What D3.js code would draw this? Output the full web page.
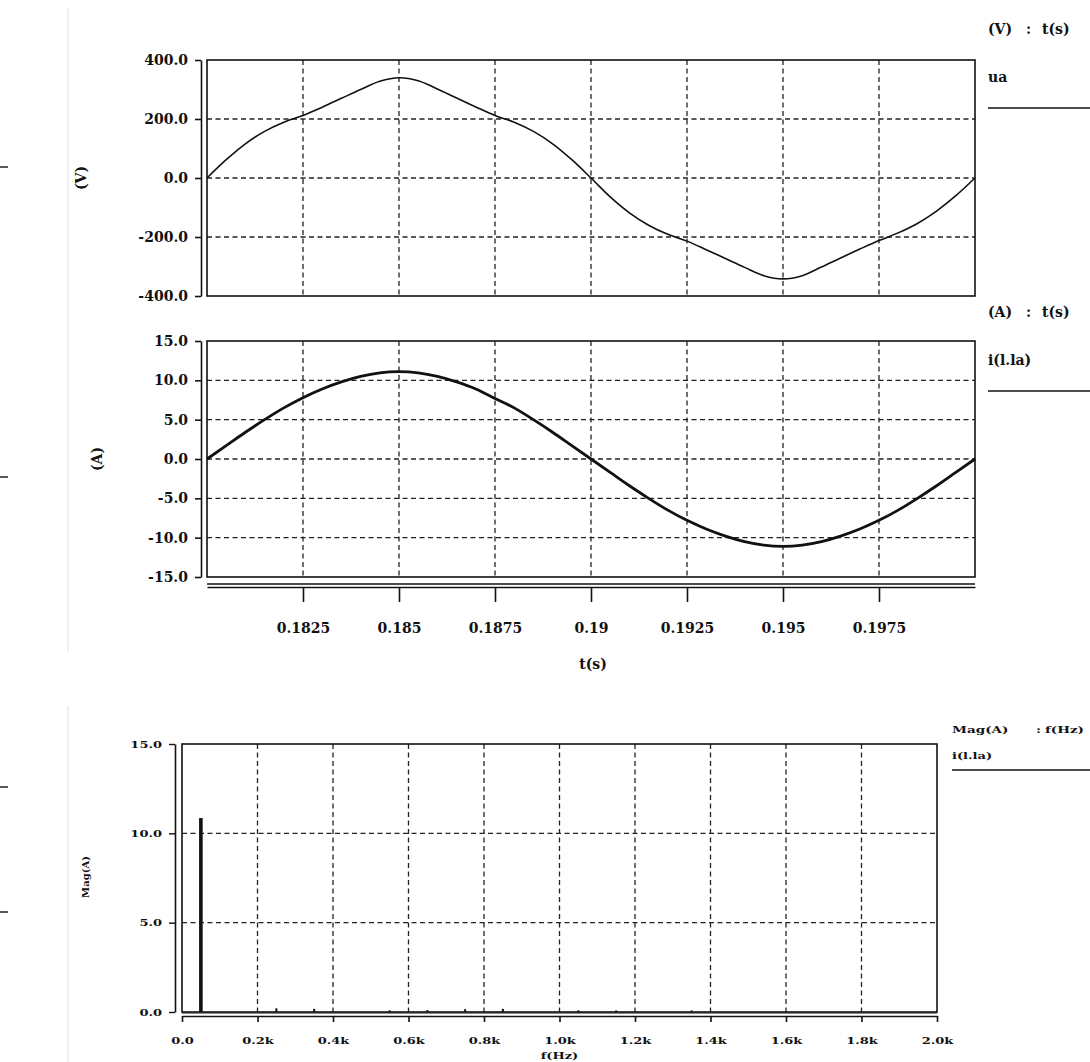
<!DOCTYPE html>
<html>
<head>
<meta charset="utf-8">
<script src="https://cdn.jsdelivr.net/npm/d3@7"></script>
<style>
  body { margin: 0; background: #fff; }
  svg { display: block; }
  .t { font-family: "DejaVu Serif", serif; font-weight: bold; font-size: 14px; fill: #111; }
  .s { font-family: "DejaVu Serif", serif; font-weight: bold; font-size: 10px; fill: #111; }
  .grid { stroke: #222; stroke-width: 1.3; stroke-dasharray: 5 3.5; fill: none; }
</style>
</head>
<body>
<svg id="vis" width="1090" height="1062"></svg>
<script>
// sample times (s)
const time = [0.1800, 0.1805, 0.1810, 0.1815, 0.1820, 0.1825, 0.1830, 0.1835, 0.1840, 0.1845,
              0.1850, 0.1855, 0.1860, 0.1865, 0.1870, 0.1875, 0.1880, 0.1885, 0.1890, 0.1895,
              0.1900, 0.1905, 0.1910, 0.1915, 0.1920, 0.1925, 0.1930, 0.1935, 0.1940, 0.1945,
              0.1950, 0.1955, 0.1960, 0.1965, 0.1970, 0.1975, 0.1980, 0.1985, 0.1990, 0.1995, 0.2000]
// phase voltage ua (V)
const ua = [0, 62, 116, 158, 189, 212, 240, 270, 300, 328,
            340, 330, 302, 271, 241, 212, 189, 158, 116, 62,
            0, -64, -118, -160, -191, -214, -243, -273, -303, -331,
            -342, -331, -302, -271, -241, -212, -186, -154, -112, -60, 0]
// phase current i(l.la) (A)
const ia = [0, 1.7, 3.4, 5.0, 6.5, 7.8, 8.9, 9.8, 10.5, 10.95,
            11.1, 10.95, 10.5, 9.8, 8.9, 7.7, 6.5, 5.0, 3.4, 1.7,
            0, -1.7, -3.4, -5.0, -6.5, -7.8, -8.9, -9.8, -10.5, -10.95,
            -11.1, -10.95, -10.5, -9.8, -8.9, -7.8, -6.5, -5.0, -3.4, -1.7, 0]

const timeTicks = [0.1825, 0.185, 0.1875, 0.19, 0.1925, 0.195, 0.1975]
const timeTickLabels = ["0.1825", "0.185", "0.1875", "0.19", "0.1925", "0.195", "0.1975"]
const uTicks = [400, 200, 0, -200, -400]
const iTicks = [15, 10, 5, 0, -5, -10, -15]

// spectrum of i(l.la)
const freq = [50, 250, 350, 550, 650, 750, 850, 1050, 1150, 1350]
const mag = [10.8, 0.15, 0.12, 0.04, 0.05, 0.1, 0.12, 0.04, 0.03, 0.03]
const fTicks = [0, 200, 400, 600, 800, 1000, 1200, 1400, 1600, 1800, 2000]
const magTicks = [15, 10, 5, 0]

const svg = d3.select("#vis")

// scales
const x = d3.scaleLinear().domain([0.18, 0.2]).range([207, 975])
const yU = d3.scaleLinear().domain([-400, 400]).range([296, 60])
const yI = d3.scaleLinear().domain([-15, 15]).range([577, 341])
const xF = d3.scaleLinear().domain([0, 2000]).range([182, 937])
const yM = d3.scaleLinear().domain([0, 15]).range([1012, 744])

// faint scan edges on the left
svg.append("line").attr("x1", 68).attr("x2", 68).attr("y1", 8).attr("y2", 652)
    .attr("stroke", "#ececec").attr("stroke-width", 1.5)
svg.append("line").attr("x1", 68).attr("x2", 68).attr("y1", 706).attr("y2", 1062)
    .attr("stroke", "#ececec").attr("stroke-width", 1.5)
svg.selectAll(".edge").data([167, 477, 787, 912]).join("line")
    .attr("x1", 0).attr("x2", 8).attr("y1", d => d).attr("y2", d => d)
    .attr("stroke", "#222").attr("stroke-width", 1.5)

function timePanel(yScale, ticks, values, ylabel, ylabelX, lineW, curve) {
    const [y0, y1] = yScale.range()
    // grid
    svg.append("g").selectAll("line").data(ticks.filter(d => d !== ticks[0] && d !== ticks[ticks.length - 1]))
        .join("line").attr("class", "grid")
        .attr("x1", 207).attr("x2", 975)
        .attr("y1", d => yScale(d)).attr("y2", d => yScale(d))
    svg.append("g").selectAll("line").data(timeTicks)
        .join("line").attr("class", "grid")
        .attr("x1", d => x(d)).attr("x2", d => x(d))
        .attr("y1", y1).attr("y2", y0)
    // frame
    svg.append("rect").attr("x", 207).attr("y", y1).attr("width", 975 - 207).attr("height", y0 - y1)
        .attr("fill", "none").attr("stroke", "#111").attr("stroke-width", 1.6)
    // y axis
    const ax = svg.append("g").attr("transform", "translate(201,0)")
        .call(d3.axisLeft(yScale).tickValues(ticks).tickSize(6).tickSizeOuter(0).tickPadding(7)
            .tickFormat(d => d.toFixed(1)))
    ax.select(".domain").attr("stroke", "#111").attr("stroke-width", 1.6)
    ax.selectAll(".tick line").attr("stroke", "#111").attr("stroke-width", 1.6)
    ax.selectAll("text").attr("class", "t")
    // curve
    svg.append("path").datum(time)
        .attr("fill", "none").attr("stroke", "#111").attr("stroke-width", lineW)
        .attr("stroke-linejoin", "round")
        .attr("d", d3.line().x(d => x(d)).y((d, i) => yScale(values[i])).curve(curve))
    svg.append("text").attr("class", "t")
        .attr("transform", `translate(${ylabelX},${yScale(0)}) rotate(-90)`)
        .attr("text-anchor", "middle").attr("dy", "0.35em").text(ylabel)
}

timePanel(yU, uTicks, ua, "(V)", 81, 1.6, d3.curveCatmullRom)
timePanel(yI, iTicks, ia, "(A)", 97, 2.8, d3.curveMonotoneX)

// time axis under the current plot
svg.append("line").attr("x1", 207).attr("x2", 975).attr("y1", 584).attr("y2", 584)
    .attr("stroke", "#111").attr("stroke-width", 1.4)
const tx = svg.append("g").attr("transform", "translate(0,587)")
    .call(d3.axisBottom(x).tickValues(timeTicks).tickSize(15).tickSizeOuter(0).tickPadding(21)
        .tickFormat((d, i) => timeTickLabels[i]))
tx.select(".domain").attr("stroke", "#111").attr("stroke-width", 1.4)
tx.selectAll(".tick line").attr("stroke", "#111").attr("stroke-width", 1.6)
tx.selectAll("text").attr("class", "t")
svg.append("text").attr("class", "t").attr("x", 593).attr("y", 669)
    .attr("text-anchor", "middle").text("t(s)")

// legends of the time plots
function legend(y, head, name) {
    const h = svg.append("text").attr("class", "t").attr("y", y)
    h.append("tspan").attr("x", 988).text(head[0])
    h.append("tspan").attr("x", 1026).text(":")
    h.append("tspan").attr("x", 1042).text(head[1])
    svg.append("text").attr("class", "t").attr("x", 988).attr("y", y + 48).text(name)
    svg.append("line").attr("x1", 988).attr("x2", 1090).attr("y1", y + 74).attr("y2", y + 74)
        .attr("stroke", "#111").attr("stroke-width", 1.4)
}
legend(34, ["(V)", "t(s)"], "ua")
legend(317, ["(A)", "t(s)"], "i(l.la)")

// ---- spectrum ----
svg.append("g").selectAll("line").data([10, 5]).join("line").attr("class", "grid")
    .attr("stroke-dasharray", "4 3")
    .attr("x1", xF(0)).attr("x2", xF(2000))
    .attr("y1", d => yM(d)).attr("y2", d => yM(d))
svg.append("g").selectAll("line").data(fTicks.slice(1, -1)).join("line").attr("class", "grid")
    .attr("stroke-dasharray", "4 3")
    .attr("x1", d => xF(d)).attr("x2", d => xF(d))
    .attr("y1", yM(15)).attr("y2", yM(0))
svg.append("rect").attr("x", xF(0)).attr("y", yM(15))
    .attr("width", xF(2000) - xF(0)).attr("height", yM(0) - yM(15))
    .attr("fill", "none").attr("stroke", "#111").attr("stroke-width", 1.6)

svg.append("g").selectAll("rect").data(freq).join("rect")
    .attr("x", (d, i) => xF(d) - (i === 0 ? 1.8 : 1))
    .attr("width", (d, i) => i === 0 ? 3.6 : 2)
    .attr("y", (d, i) => yM(mag[i]) - 1)
    .attr("height", (d, i) => yM(0) - yM(mag[i]) + 1)
    .attr("fill", "#111")

const my = svg.append("g").attr("transform", "translate(175,0)")
    .call(d3.axisLeft(yM).tickValues(magTicks).tickSize(6).tickSizeOuter(0).tickPadding(7)
        .tickFormat(d => d.toFixed(1)))
my.select(".domain").attr("stroke", "#111").attr("stroke-width", 1.6)
my.selectAll(".tick line").attr("stroke", "#111").attr("stroke-width", 1.4)
my.selectAll("text").attr("class", "s")

svg.append("line").attr("x1", xF(0)).attr("x2", xF(2000)).attr("y1", 1013).attr("y2", 1013)
    .attr("stroke", "#111").attr("stroke-width", 1.2)
const fx = svg.append("g").attr("transform", "translate(0,1016)")
    .call(d3.axisBottom(xF).tickValues(fTicks).tickSize(6).tickSizeOuter(0).tickPadding(15)
        .tickFormat(d => d === 0 ? "0.0" : (d / 1000).toFixed(1) + "k"))
fx.select(".domain").attr("stroke", "#111").attr("stroke-width", 1.4)
fx.selectAll(".tick line").attr("stroke", "#111").attr("stroke-width", 1.6)
fx.selectAll("text").attr("class", "s")
svg.append("text").attr("class", "s").attr("x", xF(1000)).attr("y", 1059)
    .attr("text-anchor", "middle").text("f(Hz)")
svg.append("text").attr("class", "s").attr("font-size", "9px")
    .attr("transform", `translate(85,877) rotate(-90)`)
    .attr("text-anchor", "middle").attr("dy", "0.35em").text("Mag(A)")

const lg = svg.append("text").attr("class", "s").attr("y", 733)
lg.append("tspan").attr("x", 952).text("Mag(A)")
lg.append("tspan").attr("x", 1036).text(":")
lg.append("tspan").attr("x", 1045).text("f(Hz)")
svg.append("text").attr("class", "s").attr("x", 952).attr("y", 759).text("i(l.la)")
svg.append("line").attr("x1", 952).attr("x2", 1090).attr("y1", 770).attr("y2", 770)
    .attr("stroke", "#111").attr("stroke-width", 1.4)

// the scanned small labels are wide and flat: stretch them horizontally
svg.selectAll("text.s").each(function () {
    if (this.getAttribute("transform")) return
    const w = this.getComputedTextLength()
    if (this.childElementCount) {
        d3.select(this).selectAll("tspan").each(function () {
            d3.select(this).attr("textLength", this.getComputedTextLength() * 1.35)
                .attr("lengthAdjust", "spacingAndGlyphs")
        })
    } else {
        d3.select(this).attr("textLength", w * 1.3).attr("lengthAdjust", "spacingAndGlyphs")
    }
})
</script>
</body>
</html>
